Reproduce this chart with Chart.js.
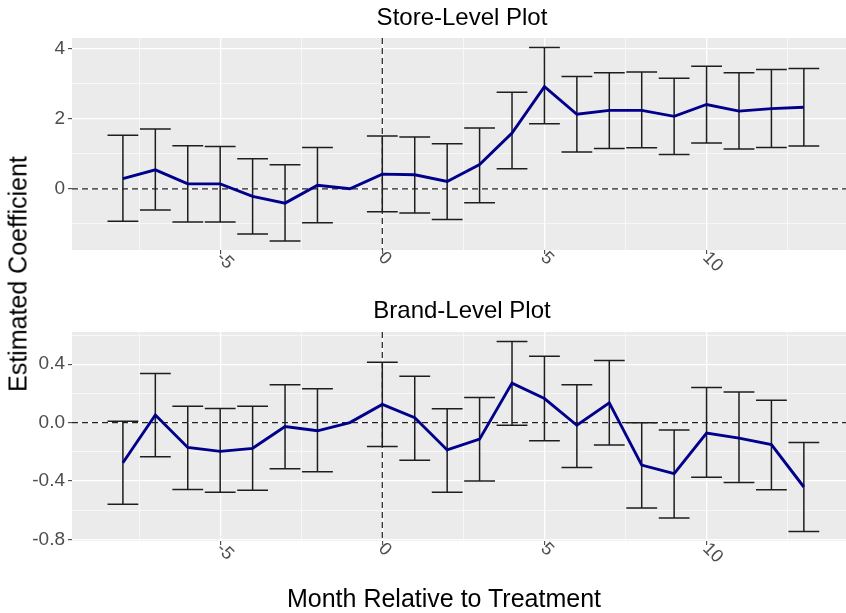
<!DOCTYPE html>
<html>
<head>
<meta charset="utf-8">
<script src="https://cdn.jsdelivr.net/npm/chart.js@4.4.1/dist/chart.umd.min.js"></script>
<style>
  body { margin: 0; background: #fff; }
  #wrap { position: relative; width: 846px; height: 613px; font-family: "Liberation Sans", Arial, sans-serif; }
  canvas { position: absolute; left: 0; }
  #storeChart { top: 0; }
  #brandChart { top: 290px; }
  .axis-title { position: absolute; color: #000; font-size: 25px; white-space: nowrap; }
  #ytitle { left: 18px; top: 274px; transform: translate(-50%, -50%) rotate(-90deg); }
  #xtitle { left: 444px; top: 598px; transform: translate(-50%, -50%); }
</style>
</head>
<body>
<div id="wrap">
  <canvas id="storeChart" width="846" height="290"></canvas>
  <canvas id="brandChart" width="846" height="323"></canvas>
  <div class="axis-title" id="ytitle">Estimated Coefficient</div>
  <div class="axis-title" id="xtitle">Month Relative to Treatment</div>
</div>
<script>
const months = [-8, -7, -6, -5, -4, -3, -2, -1, 0, 1, 2, 3, 4, 5, 6, 7, 8, 9, 10, 11, 12, 13];

// store-level estimates and 95% bounds (month -1 is the reference)
const storeCoef = [0.29, 0.54, 0.14, 0.14, -0.22, -0.41, 0.10, 0, 0.42, 0.40, 0.21, 0.69, 1.59, 2.92, 2.13, 2.24, 2.24, 2.07, 2.41, 2.22, 2.29, 2.33];
const storeLo = [-0.93, -0.61, -0.95, -0.95, -1.29, -1.49, -0.97, null, -0.66, -0.69, -0.88, -0.40, 0.57, 1.86, 1.05, 1.15, 1.17, 0.98, 1.31, 1.14, 1.18, 1.22];
const storeHi = [1.53, 1.71, 1.23, 1.21, 0.86, 0.69, 1.18, null, 1.51, 1.48, 1.29, 1.74, 2.76, 4.04, 3.21, 3.32, 3.34, 3.16, 3.50, 3.32, 3.41, 3.44];

// brand-level
const brandCoef = [-0.275, 0.052, -0.17, -0.197, -0.176, -0.027, -0.056, 0, 0.125, 0.034, -0.187, -0.113, 0.271, 0.165, -0.018, 0.136, -0.291, -0.35, -0.072, -0.106, -0.151, -0.441];
const brandLo = [-0.56, -0.233, -0.458, -0.477, -0.463, -0.316, -0.337, null, -0.163, -0.257, -0.477, -0.40, -0.018, -0.124, -0.307, -0.153, -0.585, -0.653, -0.375, -0.411, -0.459, -0.746];
const brandHi = [0.01, 0.337, 0.113, 0.097, 0.113, 0.26, 0.233, null, 0.414, 0.317, 0.095, 0.172, 0.556, 0.454, 0.26, 0.425, 0.0, -0.05, 0.24, 0.21, 0.154, -0.136];

// axis ticks
const xGridTicks = [-7.5, -5, -2.5, 0, 2.5, 5, 7.5, 10, 12.5];
const xLabelTicks = [-5, 0, 5, 10];
const storeYTicks = [-1, 0, 1, 2, 3, 4];
const storeYLabels = [0, 2, 4];
const brandYTicks = [-0.8, -0.6, -0.4, -0.2, 0, 0.2, 0.4, 0.6];
const brandYLabels = [-0.8, -0.4, 0, 0.4];

const FONT = '"Liberation Sans", Arial, sans-serif';
const X_MIN = -9.57, X_MAX = 14.3;
const CAP = 0.475;

const panelBg = {
  id: 'panelBg',
  beforeDraw(chart) {
    const { ctx, chartArea: a } = chart;
    ctx.save();
    ctx.fillStyle = '#EBEBEB';
    ctx.fillRect(a.left, a.top, a.right - a.left, a.bottom - a.top);
    ctx.restore();
  }
};

// panel title, centred over the panel rather than the canvas
const panelTitle = {
  id: 'panelTitle',
  afterDraw(chart, args, opts) {
    const { ctx } = chart;
    ctx.save();
    ctx.fillStyle = '#000';
    ctx.font = '24px ' + FONT;
    ctx.textAlign = 'center';
    ctx.textBaseline = 'middle';
    ctx.fillText(opts.text, 462, opts.y);
    ctx.restore();
  }
};

const refLines = {
  id: 'refLines',
  beforeDatasetsDraw(chart) {
    const { ctx, chartArea: a, scales } = chart;
    const x0 = scales.x.getPixelForValue(0);
    const y0 = scales.y.getPixelForValue(0);
    ctx.save();
    ctx.strokeStyle = '#222';
    ctx.lineWidth = 1.2;
    ctx.setLineDash([6, 4]);
    ctx.beginPath();
    ctx.moveTo(a.left, y0);
    ctx.lineTo(a.right, y0);
    ctx.moveTo(x0, a.top);
    ctx.lineTo(x0, a.bottom);
    ctx.stroke();
    ctx.restore();
  }
};

const errorBars = {
  id: 'errorBars',
  beforeDatasetsDraw(chart) {
    const { ctx, scales } = chart;
    const ds = chart.data.datasets[0];
    ctx.save();
    ctx.strokeStyle = '#1E1E1E';
    ctx.lineWidth = 1.5;
    ctx.beginPath();
    months.forEach((m, i) => {
      if (ds.errLo[i] == null) return;
      const xl = scales.x.getPixelForValue(m - CAP);
      const xc = scales.x.getPixelForValue(m);
      const xr = scales.x.getPixelForValue(m + CAP);
      const yl = scales.y.getPixelForValue(ds.errLo[i]);
      const yh = scales.y.getPixelForValue(ds.errHi[i]);
      ctx.moveTo(xl, yh); ctx.lineTo(xr, yh);
      ctx.moveTo(xc, yh); ctx.lineTo(xc, yl);
      ctx.moveTo(xl, yl); ctx.lineTo(xr, yl);
    });
    ctx.stroke();
    ctx.restore();
  }
};

// slanted month labels under the panel
const xLabels = {
  id: 'xLabels',
  afterDraw(chart) {
    const { ctx, chartArea: a, scales } = chart;
    ctx.save();
    ctx.fillStyle = '#4D4D4D';
    ctx.font = '18px ' + FONT;
    ctx.textAlign = 'left';
    ctx.textBaseline = 'middle';
    xLabelTicks.forEach(v => {
      const px = scales.x.getPixelForValue(v);
      ctx.save();
      ctx.translate(px - 1, a.bottom + 5);
      ctx.rotate(Math.PI / 4);
      ctx.fillText(String(v), 0, 0);
      ctx.restore();
    });
    ctx.restore();
  }
};

function buildChart(id, title, titleY, topPad, coef, lo, hi, yMin, yMax, yTicks, yLabels, fmt, xAxisHeight) {
  return new Chart(document.getElementById(id), {
    type: 'line',
    data: {
      datasets: [{
        data: months.map((m, i) => ({ x: m, y: coef[i] })),
        errLo: lo,
        errHi: hi,
        borderColor: '#00008B',
        borderWidth: 2.9,
        pointRadius: 0,
        tension: 0,
        fill: false
      }]
    },
    options: {
      responsive: false,
      animation: false,
      devicePixelRatio: 1,
      layout: { padding: { top: topPad, left: 0, right: 0, bottom: 0 } },
      plugins: {
        legend: { display: false },
        tooltip: { enabled: false },
        title: { display: false },
        panelTitle: { text: title, y: titleY }
      },
      scales: {
        x: {
          type: 'linear',
          min: X_MIN,
          max: X_MAX,
          afterBuildTicks: s => { s.ticks = xGridTicks.map(v => ({ value: v })); },
          afterFit: s => { s.height = xAxisHeight; },
          ticks: { display: false, autoSkip: false },
          grid: {
            color: '#FFFFFF',
            lineWidth: c => (c.tick && xLabelTicks.includes(c.tick.value)) ? 1.3 : 0.6,
            tickLength: 4,
            tickWidth: 1,
            tickColor: c => (c.tick && xLabelTicks.includes(c.tick.value)) ? '#333' : 'rgba(0,0,0,0)'
          },
          border: { display: false }
        },
        y: {
          min: yMin,
          max: yMax,
          afterBuildTicks: s => { s.ticks = yTicks.map(v => ({ value: v })); },
          afterFit: s => { s.width = 72; },
          ticks: {
            autoSkip: false,
            color: '#4D4D4D',
            font: { family: FONT, size: 19 },
            padding: 3,
            callback: v => yLabels.includes(v) ? fmt(v) : ''
          },
          grid: {
            color: '#FFFFFF',
            lineWidth: c => (c.tick && yLabels.includes(c.tick.value)) ? 1.3 : 0.6,
            tickLength: 4,
            tickWidth: 1,
            tickColor: c => (c.tick && yLabels.includes(c.tick.value)) ? '#333' : 'rgba(0,0,0,0)'
          },
          border: { display: false }
        }
      }
    },
    plugins: [panelBg, refLines, errorBars, xLabels, panelTitle]
  });
}

buildChart('storeChart', 'Store-Level Plot', 18, 38,
  storeCoef, storeLo, storeHi, -1.75, 4.31, storeYTicks, storeYLabels, v => String(v), 40);

buildChart('brandChart', 'Brand-Level Plot', 21, 42,
  brandCoef, brandLo, brandHi, -0.811, 0.621, brandYTicks, brandYLabels, v => v.toFixed(1), 72);
</script>
</body>
</html>
